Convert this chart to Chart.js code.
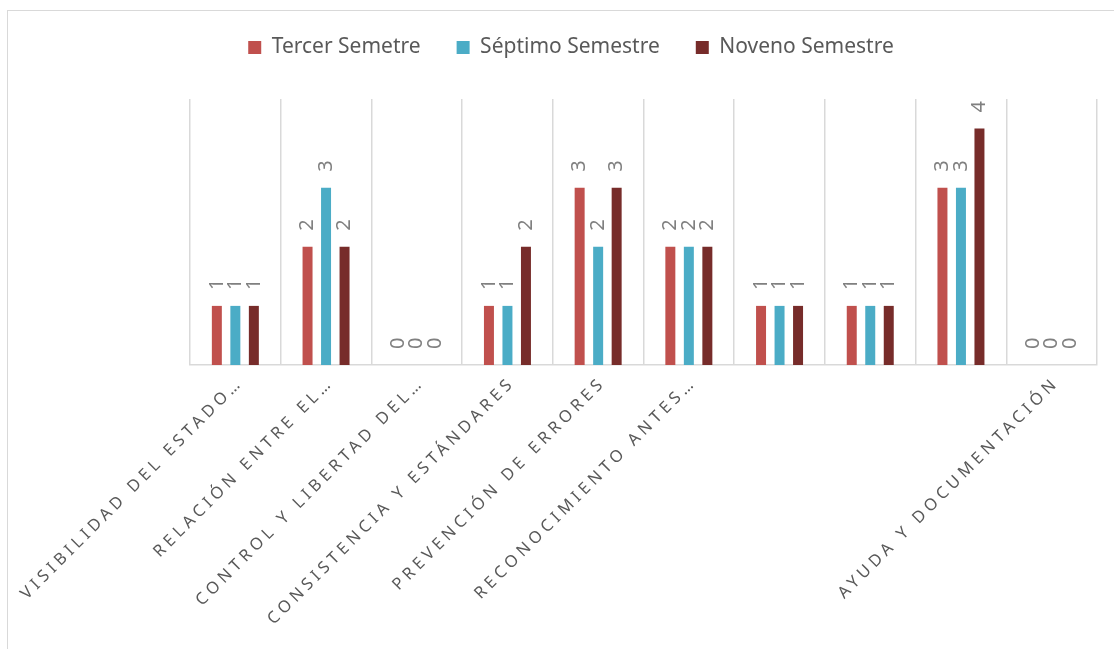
<!DOCTYPE html>
<html>
<head>
<meta charset="utf-8">
<script src="https://cdn.jsdelivr.net/npm/chart.js@4.4.1/dist/chart.umd.min.js"></script>
<style>
  html, body { margin: 0; padding: 0; background: #fff; overflow: hidden; }
  #marco { position: absolute; left: 7px; top: 10px; width: 1200px; height: 700px; border: 1px solid #d9d9d9; }
  #wrap { position: absolute; left: 0; top: 0; width: 1114px; height: 649px; }
</style>
</head>
<body>
<div id="marco"></div>
<div id="wrap"><canvas id="grafico"></canvas></div>
<script>
// heurísticas evaluadas
const heuristicas = [
    'VISIBILIDAD DEL ESTADO…',
    'RELACIÓN ENTRE EL…',
    'CONTROL Y LIBERTAD DEL…',
    'CONSISTENCIA Y ESTÁNDARES',
    'PREVENCIÓN DE ERRORES',
    'RECONOCIMIENTO ANTES…',
    '',
    '',
    '',
    'AYUDA Y DOCUMENTACIÓN'
];
const tercer  = [1, 2, 0, 1, 3, 2, 1, 1, 3, 0];
const septimo = [1, 3, 0, 1, 2, 2, 1, 1, 3, 0];
const noveno  = [1, 2, 0, 2, 3, 2, 1, 1, 4, 0];
const ejeMax = 4.5;

const fuente = '"Noto Sans", "Open Sans", sans-serif';

// etiquetas de valor giradas encima de cada barra
const etiquetasValor = {
    id: 'etiquetasValor',
    afterDatasetsDraw(chart) {
        const ctx = chart.ctx;
        ctx.save();
        ctx.fillStyle = '#808080';
        ctx.font = '20px ' + fuente;
        ctx.textAlign = 'left';
        ctx.textBaseline = 'middle';
        chart.data.datasets.forEach((ds, i) => {
            chart.getDatasetMeta(i).data.forEach((bar, j) => {
                ctx.save();
                ctx.translate(bar.x, bar.y - 16);
                ctx.rotate(-Math.PI / 2);
                ctx.fillText(String(ds.data[j]), 0, 0);
                ctx.restore();
            });
        });
        ctx.restore();
    }
};

// espaciado entre letras en el eje x y hueco bajo la leyenda
const ajustes = {
    id: 'ajustes',
    beforeLayout(chart) {
        const lg = chart.legend;
        if (lg && !lg._hueco) {
            const fit = lg.fit;
            lg.fit = function () { fit.call(this); this.height += 31; };
            lg._hueco = true;
        }
    },
    beforeDraw(chart) {
        const xs = chart.scales.x;
        if (xs._conEspacio) return;
        const orig = xs.drawLabels;
        xs.drawLabels = function (area) {
            this.ctx.save();
            this.ctx.letterSpacing = '4.3px';
            orig.call(this, area);
            this.ctx.restore();
        };
        xs._conEspacio = true;
    }
};

const ctx = document.getElementById('grafico').getContext('2d');
const chart = new Chart(ctx, {
    type: 'bar',
    data: {
        labels: heuristicas,
        datasets: [
            { label: 'Tercer Semetre', data: tercer, backgroundColor: '#C0504D' },
            { label: 'Séptimo Semestre', data: septimo, backgroundColor: '#4BACC6' },
            { label: 'Noveno Semestre', data: noveno, backgroundColor: '#772C2A' }
        ]
    },
    options: {
        responsive: true,
        maintainAspectRatio: false,
        animation: false,
        categoryPercentage: 0.612,
        barPercentage: 0.54,
        layout: { padding: { left: 45, right: 17, top: 1, bottom: 0 } },
        plugins: {
            legend: {
                position: 'top',
                labels: {
                    boxWidth: 13,
                    boxHeight: 13,
                    padding: 36,
                    color: '#595959',
                    font: { size: 21, family: fuente }
                }
            },
            tooltip: { enabled: false }
        },
        scales: {
            x: {
                grid: { color: '#d9d9d9', lineWidth: 1.5, drawTicks: false, offset: true },
                border: { color: '#d9d9d9', width: 1.5 },
                ticks: {
                    autoSkip: false,
                    maxRotation: 45,
                    minRotation: 45,
                    padding: 8,
                    labelOffset: 5,
                    color: '#595959',
                    font: { size: 16.5, family: fuente }
                },
                afterFit(s) { s.height = 284; }
            },
            y: {
                min: 0,
                max: ejeMax,
                grid: { display: false },
                border: { display: false },
                ticks: { display: false },
                afterFit(s) { s.width = 145; }
            }
        }
    },
    plugins: [etiquetasValor, ajustes]
});
</script>
</body>
</html>
